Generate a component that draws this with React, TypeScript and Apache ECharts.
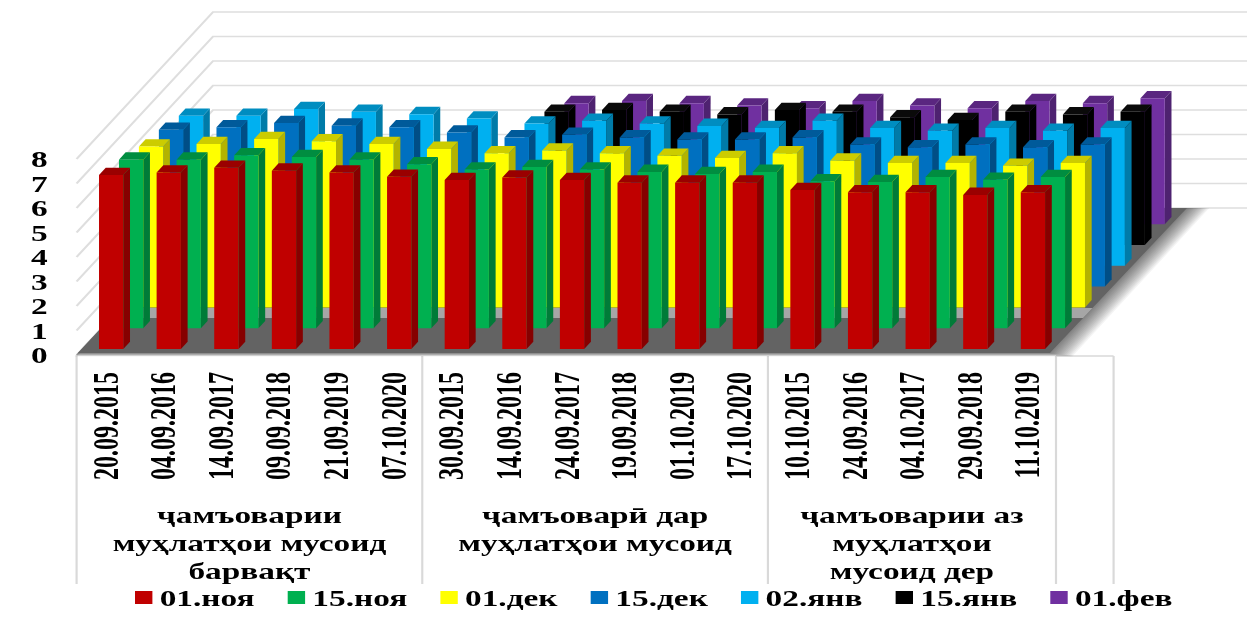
import React, { useEffect, useRef } from "react";
import * as echarts from "echarts";

const categories = [
  "20.09.2015", "04.09.2016", "14.09.2017", "09.09.2018", "21.09.2019", "07.10.2020",
  "30.09.2015", "14.09.2016", "24.09.2017", "19.09.2018", "01.10.2019", "17.10.2020",
  "10.10.2015", "24.09.2016", "04.10.2017", "29.09.2018", "11.10.2019", "",
];
const seriesNames = ["01.ноя", "15.ноя", "01.дек", "15.дек", "02.янв", "15.янв", "01.фев"];
const v1Nov = [7.1, 7.2, 7.4, 7.28, 7.2, 7.03, 6.9, 7.0, 6.9, 6.79, 6.79, 6.79, 6.49, 6.4, 6.4, 6.29, 6.4];
const v15Nov = [6.88, 6.88, 7.06, 6.99, 6.88, 6.69, 6.48, 6.58, 6.48, 6.38, 6.29, 6.38, 6.0, 5.97, 6.17, 6.06, 6.17];
const v1Dec = [6.57, 6.67, 6.87, 6.78, 6.67, 6.47, 6.29, 6.4, 6.29, 6.19, 6.1, 6.29, 5.99, 5.89, 5.89, 5.78, 5.89];
const v15Dec = [6.4, 6.5, 6.68, 6.57, 6.5, 6.29, 6.09, 6.2, 6.09, 6.0, 6.0, 6.09, 5.8, 5.69, 5.8, 5.69, 5.8];
const v2Jan = [6.12, 6.12, 6.4, 6.29, 6.19, 6.01, 5.81, 5.92, 5.81, 5.71, 5.62, 5.92, 5.62, 5.51, 5.62, 5.51, 5.62];
const v15Jan = [null, null, null, null, null, null, 5.44, 5.51, 5.44, 5.33, 5.51, 5.44, 5.21, 5.1, 5.44, 5.33, 5.44];
const v1Feb = [null, null, null, null, null, null, 4.94, 5.03, 4.94, 4.84, 4.73, 5.03, 4.84, 4.73, 5.03, 4.94, 5.14];
const allValues = [v1Nov, v15Nov, v1Dec, v15Dec, v2Jan, v15Jan, v1Feb];

const frontColors = ["#C00000", "#00B050", "#FFFF00", "#0070C0", "#00B0F0", "#000000", "#7030A0"];
const sideColors = ["#860000", "#007B38", "#B3B300", "#004E86", "#007BA8", "#000000", "#4E2270"];
const topColors = ["#9A0000", "#008D40", "#CCCC00", "#005A9A", "#008DC0", "#0A0A0A", "#5A2680"];

const groupNames = [
  "ҷамъоварии\nмуҳлатҳои мусоид\nбарвақт",
  "ҷамъоварӣ дар\nмуҳлатҳои мусоид",
  "ҷамъоварии аз\nмуҳлатҳои\nмусоид дер",
];
const groupEdges = [0, 6, 12, 17, 18];
const yTicks = [0, 1, 2, 3, 4, 5, 6, 7, 8];
const shadowLayers = [1, 2, 3, 4, 5, 6, 7, 8, 9, 10, 11, 12, 13, 14];

// the reference is stretched horizontally: everything is laid out narrow, then scaled
const S = 1.45;
const px = (x: number) => x / S;
const FONT = '"Liberation Serif", "Times New Roman", serif';

const GRID_LEFT = px(76.6);
const GRID_W = px(1037);
const GRID_TOP = 159;
const GRID_H = 196;

export default function App() {
  const ref = useRef<HTMLDivElement>(null);
  useEffect(() => {
    const chart = echarts.init(ref.current!, null, { renderer: "svg" });

    const wall = {
      type: "custom",
      silent: true,
      z: 1,
      data: yTicks.map((t) => [0, t]),
      encode: { x: 0, y: 1 },
      renderItem: (_p: any, api: any) => {
        const [x, y] = api.coord([0, api.value(1)]);
        const left = x - api.size([1, 0])[0] / 2;
        return {
          type: "polyline",
          shape: { points: [[left, y], [px(213), y - 147], [px(1247), y - 147]] },
          style: { stroke: "#DEDEDE", lineWidth: 1.6, fill: "none" },
        };
      },
    };

    const floor = {
      type: "custom",
      silent: true,
      z: 2,
      data: [[0, 0]],
      encode: { x: 0, y: 1 },
      renderItem: (_p: any, api: any) => {
        const [, y] = api.coord([0, 0]);
        const edge = (yy: number) => px(1050) + ((y - 2 - yy) / 145) * px(137);
        const ledge = (yy: number) => px(78) + ((y - 2 - yy) / 145) * px(135);
        const layers = shadowLayers
          .slice()
          .reverse()
          .map((k) => ({
            type: "polygon",
            shape: {
              points: [
                [px(78 - k * 0.25), y - 2 + k * 0.25],
                [px(1050 + k * 1.6), y - 2 + k * 0.25],
                [px(1187 + k * 1.6), y - 147],
                [px(213), y - 147],
              ],
            },
            style: { fill: "rgba(0,0,0,0.045)" },
          }));
        return {
          type: "group",
          children: [
            ...layers,
            {
              type: "polygon",
              shape: { points: [[px(78), y - 2], [px(1050), y - 2], [px(1187), y - 147], [px(213), y - 147]] },
              style: { fill: "#636363" },
            },
            {
              type: "polygon",
              shape: { points: [[ledge(308), 308], [edge(308), 308], [edge(318), 318], [ledge(318), 318]] },
              style: { fill: "#A6A6A6" },
            },
          ],
        };
      },
    };

    const frame = {
      type: "custom",
      silent: true,
      z: 1,
      data: groupEdges.map((e) => [e, 0]),
      renderItem: (p: any, api: any) => {
        const band = api.size([1, 0])[0];
        const x0 = api.coord([0, 0])[0] - band / 2;
        const i = p.dataIndex;
        const x = x0 + groupEdges[i] * band;
        const children: any[] = [
          {
            type: "line",
            shape: { x1: x, y1: 356, x2: x, y2: 584 },
            style: { stroke: "#D9D9D9", lineWidth: 1.5 },
          },
        ];
        if (i === 4) {
          children.push({
            type: "line",
            shape: { x1: x0 + 17 * band, y1: 356, x2: x, y2: 356 },
            style: { stroke: "#D9D9D9", lineWidth: 1.5 },
          });
        }
        if (i < groupNames.length) {
          const cx = x0 + ((groupEdges[i] + groupEdges[i + 1]) / 2) * band;
          children.push({
            type: "text",
            x: cx,
            y: 515 - 14,
            style: {
              text: groupNames[i],
              textAlign: "center",
              textVerticalAlign: "top",
              font: `bold 23px ${FONT}`,
              lineHeight: 28,
              fill: "#000",
            },
          });
        }
        return { type: "group", children };
      },
    };

    const BAR_W = px(24.3);
    const SIDE_DX = px(6.7);
    const SIDE_DY = 7.3;
    const bars = allValues.map((vals, si) => ({
      name: seriesNames[si],
      type: "custom",
      z: 20 - si,
      itemStyle: { color: frontColors[si] },
      data: vals.map((v, i) => [i, v]).filter((d) => d[1] !== null),
      encode: { x: 0, y: 1 },
      renderItem: (_p: any, api: any) => {
        const top = api.coord([api.value(0), api.value(1)]);
        const zero = api.coord([api.value(0), 0]);
        const dy = -6 - 20.8 * si;
        const L = top[0] - px(6.4) + px(19.95) * si;
        const R = L + BAR_W;
        const T = top[1] + dy;
        const B = zero[1] + dy;
        return {
          type: "group",
          children: [
            {
              type: "polygon",
              shape: { points: [[R, T], [R + SIDE_DX, T - SIDE_DY], [R + SIDE_DX, B - SIDE_DY], [R, B]] },
              style: { fill: sideColors[si] },
            },
            {
              type: "polygon",
              shape: { points: [[L, T], [L + SIDE_DX, T - SIDE_DY], [R + SIDE_DX, T - SIDE_DY], [R, T]] },
              style: { fill: topColors[si] },
            },
            { type: "rect", shape: { x: L, y: T, width: BAR_W, height: B - T }, style: { fill: frontColors[si] } },
          ],
        };
      },
    }));

    chart.setOption({
      animation: false,
      backgroundColor: "#fff",
      grid: { left: GRID_LEFT, top: GRID_TOP, width: GRID_W, height: GRID_H },
      xAxis: {
        type: "category",
        data: categories,
        axisLine: { show: false },
        axisTick: { show: false },
        splitLine: { show: false },
        axisLabel: {
          interval: 0,
          rotate: 90,
          margin: 17,
          fontFamily: FONT,
          fontWeight: "bold",
          fontSize: 24,
          color: "#000",
        },
      },
      yAxis: {
        type: "value",
        min: 0,
        max: 8,
        interval: 1,
        axisLine: { show: false },
        axisTick: { show: false },
        splitLine: { show: false },
        axisLabel: { margin: 20, fontFamily: FONT, fontWeight: "bold", fontSize: 23, color: "#000" },
      },
      legend: {
        data: seriesNames.map((n, i) => ({ name: n, itemStyle: { color: frontColors[i] } })),
        left: px(135) - 5,
        top: 581,
        itemWidth: 12,
        itemHeight: 13,
        itemGap: 22.8,
        icon: "rect",
        selectedMode: false,
        textStyle: { fontFamily: FONT, fontWeight: "bold", fontSize: 23, color: "#000", padding: [0, 0, 0, 0] },
      },
      series: [wall, floor, frame, ...bars],
    });
    return () => chart.dispose();
  }, []);

  return (
    <div
      ref={ref}
      style={{
        position: "absolute",
        left: 0,
        top: 0,
        width: 1260 / S,
        height: 623,
        transform: `scaleX(${S})`,
        transformOrigin: "0 0",
        filter: "blur(0.5px)",
      }}
    />
  );
}
